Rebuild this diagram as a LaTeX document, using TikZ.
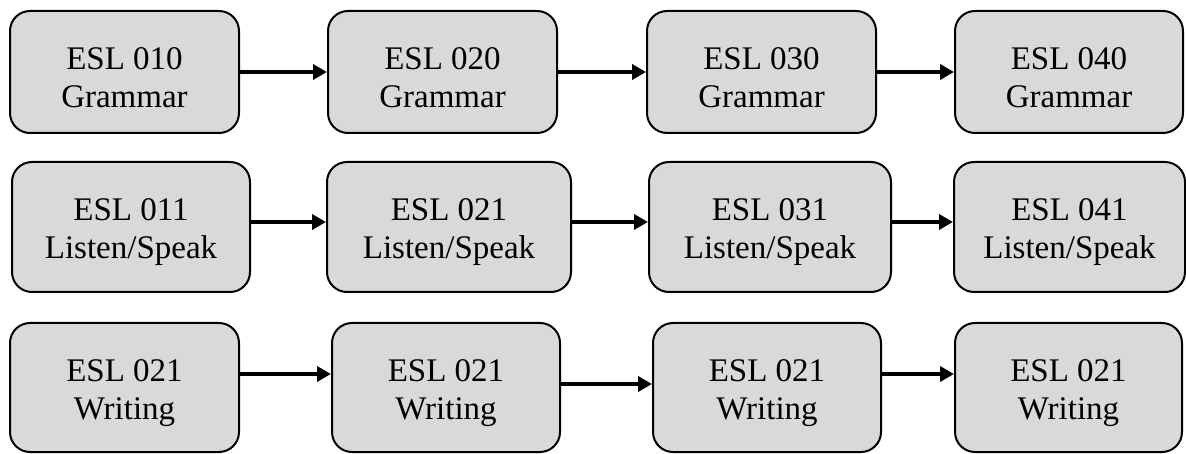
\documentclass[tikz,border=0pt]{standalone}
\usepackage{fontspec}
\setmainfont{Liberation Serif}
\usetikzlibrary{arrows.meta}
\definecolor{boxfill}{HTML}{D9D9D9}
\tikzset{
  box/.style={draw=black, line width=2pt, fill=boxfill, rounded corners=20pt,
    align=center, inner sep=0pt, font=\fontsize{33}{38}\selectfont},
  arr/.style={line width=3.5pt, -{Triangle[length=14pt,width=15pt]}}
}
\newcommand{\mybox}[7]{% name, left, right, top, bottom, line1, line2
  \pgfmathsetmacro{\cx}{(#2+#3)/2}\pgfmathsetmacro{\cy}{(#4+#5)/2}
  \pgfmathsetmacro{\w}{#3-#2}\pgfmathsetmacro{\h}{#5-#4}
  \node[box, minimum width=\w pt, minimum height=\h pt] (#1) at (\cx,\cy) {\rule{0pt}{33pt}#6\\#7};
}
\begin{document}
\begin{tikzpicture}[x=1pt,y=-1pt]
\useasboundingbox (0,0) rectangle (1186,454);
% row 1
\mybox{a1}{10}{239}{11}{133}{ESL 010}{Grammar}
\mybox{a2}{328}{557}{11}{133}{ESL 020}{Grammar}
\mybox{a3}{647}{876}{11}{133}{ESL 030}{Grammar}
\mybox{a4}{955}{1183}{11}{133}{ESL 040}{Grammar}
% row 2
\mybox{b1}{12}{250}{162}{292}{ESL 011}{Listen/Speak}
\mybox{b2}{327}{571}{162}{292}{ESL 021}{Listen/Speak}
\mybox{b3}{649}{891}{162}{292}{ESL 031}{Listen/Speak}
\mybox{b4}{954}{1185}{162}{292}{ESL 041}{Listen/Speak}
% row 3
\mybox{c1}{10}{239}{323}{452}{ESL 021}{Writing}
\mybox{c2}{332}{560}{323}{452}{ESL 021}{Writing}
\mybox{c3}{653}{881}{323}{452}{ESL 021}{Writing}
\mybox{c4}{955}{1182}{323}{452}{ESL 021}{Writing}
% arrows
\draw[arr] (a1.east|-0,72) -- (a2.west|-0,72);
\draw[arr] (a2.east|-0,72) -- (a3.west|-0,72);
\draw[arr] (a3.east|-0,72) -- (a4.west|-0,72);
\draw[arr] (b1.east|-0,222) -- (b2.west|-0,222);
\draw[arr] (b2.east|-0,222) -- (b3.west|-0,222);
\draw[arr] (b3.east|-0,222) -- (b4.west|-0,222);
\draw[arr] (c1.east|-0,374) -- (c2.west|-0,374);
\draw[arr] (c2.east|-0,384) -- (c3.west|-0,384);
\draw[arr] (c3.east|-0,374) -- (c4.west|-0,374);
\end{tikzpicture}
\end{document}
